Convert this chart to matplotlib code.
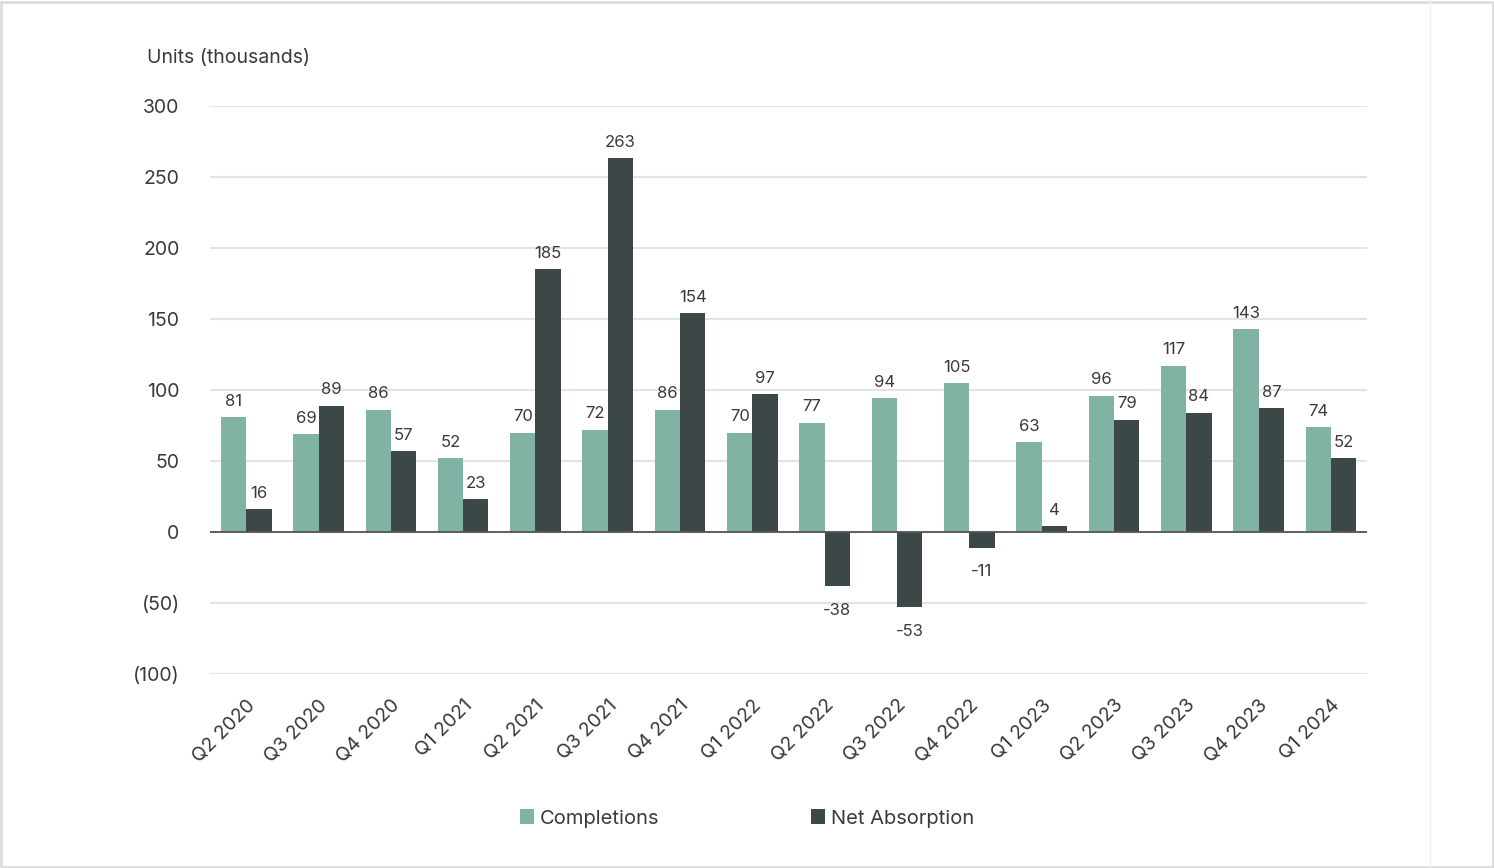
import matplotlib.pyplot as plt
import numpy as np
from matplotlib.lines import Line2D
from matplotlib.patches import Rectangle

plt.rcParams['font.family'] = ['Inter', 'DejaVu Sans']

quarters = ['Q2 2020', 'Q3 2020', 'Q4 2020', 'Q1 2021', 'Q2 2021', 'Q3 2021',
            'Q4 2021', 'Q1 2022', 'Q2 2022', 'Q3 2022', 'Q4 2022', 'Q1 2023',
            'Q2 2023', 'Q3 2023', 'Q4 2023', 'Q1 2024']
completions = [81, 69, 86, 52, 70, 72, 86, 70, 77, 94, 105, 63, 96, 117, 143, 74]
net_absorption = [16, 89, 57, 23, 185, 263, 154, 97, -38, -53, -11, 4, 79, 84, 87, 52]

c_comp = '#80b3a3'
c_net = '#3c4848'
txt = '#3a3a3a'

fig = plt.figure(figsize=(14.94, 8.68), dpi=100)
ax = fig.add_axes([0.1406, 0.2235, 0.7745, 0.6545])

x = np.arange(len(quarters))
w = 0.35
ax.bar(x - w / 2, completions, w, color=c_comp, label='Completions', zorder=2)
ax.bar(x + w / 2, net_absorption, w, color=c_net, label='Net Absorption', zorder=2)

for xi, v in zip(x, completions):
    ax.annotate(str(v), (xi - w / 2, v), xytext=(0, 6), textcoords='offset points',
                ha='center', va='bottom', fontsize=12, color=txt)
for xi, v in zip(x, net_absorption):
    if v >= 0:
        ax.annotate(str(v), (xi + w / 2, v), xytext=(0, 6), textcoords='offset points',
                    ha='center', va='bottom', fontsize=12, color=txt)
    else:
        ax.annotate(str(v), (xi + w / 2, v), xytext=(0, -12), textcoords='offset points',
                    ha='center', va='top', fontsize=12, color=txt)

ax.set_xlim(-0.5, len(quarters) - 0.5)
ax.set_ylim(-100, 300)
yt = [-100, -50, 0, 50, 100, 150, 200, 250, 300]
ax.set_yticks(yt)
ax.set_yticklabels(['(100)', '(50)', '0', '50', '100', '150', '200', '250', '300'])
ax.set_xticks(x)
ax.set_xticklabels(quarters, rotation=45, ha='right', rotation_mode='anchor')
ax.tick_params(axis='both', length=0, colors=txt, labelsize=14)
ax.tick_params(axis='y', pad=22)
ax.tick_params(axis='x', pad=16, labelsize=14)
ax.grid(axis='y', color='#e3e3e3', linewidth=1.5, zorder=0)
ax.axhline(0, color='#555555', linewidth=1.3, zorder=3)
for s in ax.spines.values():
    s.set_visible(False)

fig.text(0.0985, 0.933, 'Units (thousands)', fontsize=14, color=txt, ha='left', va='center')

leg = fig.legend(loc='center', bbox_to_anchor=(0.5, 0.057), ncol=2, frameon=False,
                 fontsize=14.5, handlelength=0.7, handleheight=0.7, handletextpad=0.3,
                 columnspacing=7.5)
for t in leg.get_texts():
    t.set_color(txt)

fig.add_artist(Rectangle((0.001, 0.001), 0.998, 0.997, transform=fig.transFigure,
                         fill=False, edgecolor='#dddddd', linewidth=2))
fig.add_artist(Line2D([0.957, 0.957], [0, 1], transform=fig.transFigure,
                      color='#eeeeee', linewidth=1))

fig.savefig('out.png', dpi=100, facecolor='white')
